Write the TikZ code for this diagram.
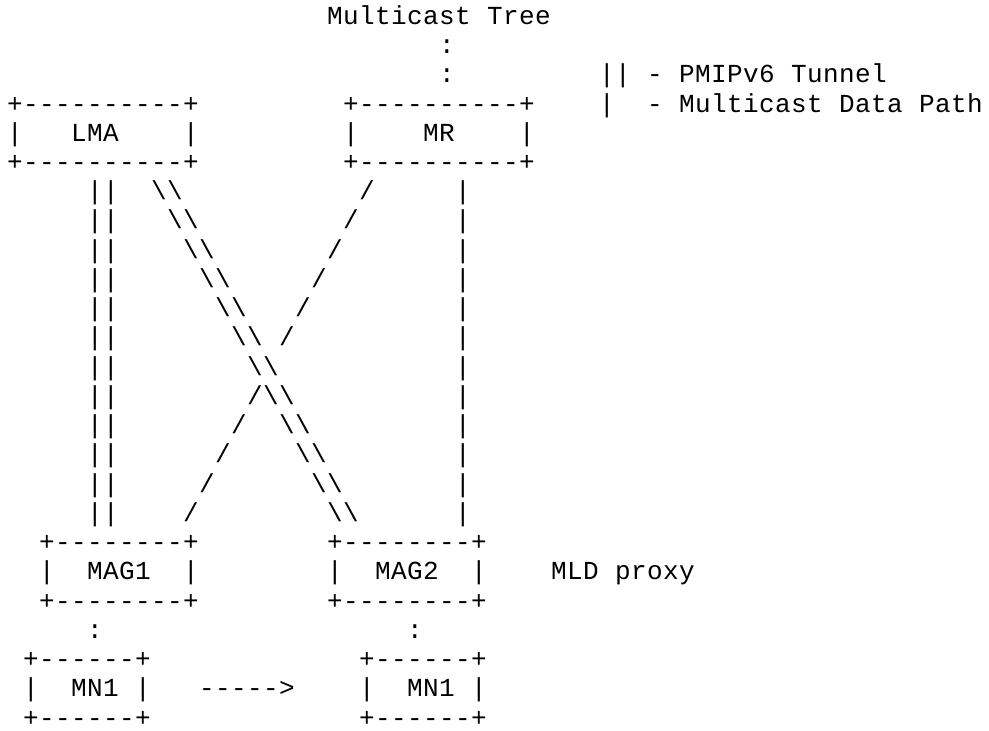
\documentclass[tikz,border=0pt]{standalone}
\usepackage{fontspec}
\newfontfamily\asciifont{Liberation Mono}
\makeatletter
\newcommand\gridtext[1]{\@tfor\gch:=#1\do{\makebox[16pt]{\gch}}}
\makeatother
\newcommand\asciiat[4]{\node[asc] (#1) at ({7+16*(#2)},{24.3+29.24*(#3)}) {\gridtext{#4}};}
\begin{document}
\begin{tikzpicture}[x=1pt,y=-1pt,
  asc/.style={anchor=base west, inner sep=0pt, outer sep=0pt,
    font=\asciifont\fontsize{26}{29.24}\selectfont, text=black}]
\useasboundingbox (0,0) rectangle (989,731);
% header
\asciiat{tree}{20}{0}{Multicast~Tree}
\asciiat{dotA}{27}{1}{:}
\asciiat{dotB}{27}{2}{:}
% legend
\asciiat{legA}{37}{2}{||~-~PMIPv6~Tunnel}
\asciiat{legBbar}{37}{3}{|}
\asciiat{legB}{40}{3}{-~Multicast~Data~Path}
% LMA box
\asciiat{lmaT}{0}{3}{+----------+}
\asciiat{lmaL}{0}{4}{|}
\asciiat{lma}{4}{4}{LMA}
\asciiat{lmaR}{11}{4}{|}
\asciiat{lmaB}{0}{5}{+----------+}
% MR box
\asciiat{mrT}{21}{3}{+----------+}
\asciiat{mrL}{21}{4}{|}
\asciiat{mr}{26}{4}{MR}
\asciiat{mrR}{32}{4}{|}
\asciiat{mrB}{21}{5}{+----------+}
% connector rows
\foreach \r in {6,...,17}{
  \asciiat{tun\r}{5}{\r}{||}
  \asciiat{data\r}{28}{\r}{|}
  \asciiat{cross\r}{\r+3}{\r}{\textbackslash\textbackslash}
  \ifnum\r=12\relax\else
    \asciiat{slash\r}{28-\r}{\r}{/}
  \fi
}
% MAG1 box
\asciiat{magAT}{2}{18}{+--------+}
\asciiat{magAL}{2}{19}{|}
\asciiat{magA}{5}{19}{MAG1}
\asciiat{magAR}{11}{19}{|}
\asciiat{magAB}{2}{20}{+--------+}
% MAG2 box
\asciiat{magBT}{20}{18}{+--------+}
\asciiat{magBL}{20}{19}{|}
\asciiat{magB}{23}{19}{MAG2}
\asciiat{magBR}{29}{19}{|}
\asciiat{magBB}{20}{20}{+--------+}
\asciiat{mld}{34}{19}{MLD~proxy}
% links to MNs
\asciiat{dotC}{5}{21}{:}
\asciiat{dotD}{25}{21}{:}
% MN1 boxes
\asciiat{mnAT}{1}{22}{+------+}
\asciiat{mnAL}{1}{23}{|}
\asciiat{mnA}{4}{23}{MN1}
\asciiat{mnAR}{8}{23}{|}
\asciiat{mnAB}{1}{24}{+------+}
\asciiat{move}{12}{23}{----->}
\asciiat{mnBT}{22}{22}{+------+}
\asciiat{mnBL}{22}{23}{|}
\asciiat{mnB}{25}{23}{MN1}
\asciiat{mnBR}{29}{23}{|}
\asciiat{mnBB}{22}{24}{+------+}
\end{tikzpicture}
\end{document}
